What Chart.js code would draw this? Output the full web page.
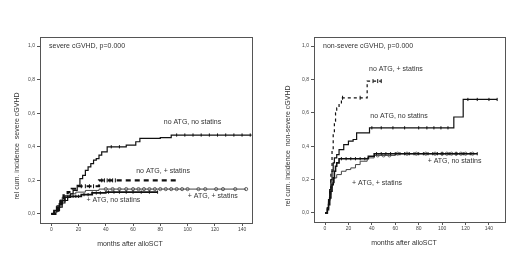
<!DOCTYPE html>
<html>
<head>
<meta charset="utf-8">
<script src="https://cdn.jsdelivr.net/npm/chart.js@4.4.1/dist/chart.umd.min.js"></script>
<style>
    body { margin: 0; background: #fff; width: 520px; height: 262px; position: relative; overflow: hidden; }
    canvas { position: absolute; top: 0; }
    #severe { left: 0; }
    #nonsevere { left: 274px; }
</style>
</head>
<body>
<canvas id="severe" width="260" height="262"></canvas>
<canvas id="nonsevere" width="246" height="262"></canvas>
<script>
// tick labels
const xTicks = [0, 20, 40, 60, 80, 100, 120, 140];
const yTicks = [0, 0.2, 0.4, 0.6, 0.8, 1.0];
const seriesNames = ["no ATG, no statins", "no ATG, + statins", "+ ATG, no statins", "+ ATG, + statins"];

// severe cGVHD - step functions (months / cumulative incidence)
const sevNoNoT = [0, 2, 4, 6, 8, 10, 12, 14, 16, 19, 21, 23, 25, 27, 29, 31, 33, 35, 37, 41, 55, 62, 65, 80, 88, 147];
const sevNoNoV = [0, 0.01, 0.02, 0.04, 0.065, 0.08, 0.1, 0.12, 0.14, 0.17, 0.21, 0.23, 0.26, 0.28, 0.30, 0.32, 0.33, 0.35, 0.37, 0.40, 0.41, 0.43, 0.45, 0.455, 0.47, 0.47];
const sevNoNoCens = [44, 50, 92, 98, 104, 110, 116, 122, 128, 134, 140, 146];
const sevNoStT = [0, 3, 5, 7, 9, 12, 15, 20, 35, 93];
const sevNoStV = [0, 0.02, 0.05, 0.08, 0.11, 0.13, 0.15, 0.165, 0.20, 0.20];
const sevNoStCens = [22, 25, 28, 31, 37, 39, 41, 43, 45, 47];
const sevAtgNoT = [0, 2, 4, 6, 8, 10, 14, 22, 30, 40, 78];
const sevAtgNoV = [0, 0.02, 0.04, 0.06, 0.08, 0.10, 0.105, 0.115, 0.125, 0.13, 0.13];
const sevAtgNoCens = [12, 14, 16, 18, 20, 24, 27, 30, 33, 36, 42, 46, 50, 55, 60, 66, 72, 78];
const sevAtgStT = [0, 2, 4, 6, 8, 10, 14, 18, 25, 35, 143];
const sevAtgStV = [0, 0.02, 0.05, 0.08, 0.10, 0.11, 0.12, 0.13, 0.14, 0.148, 0.148];
const sevAtgStCens = [40, 45, 50, 55, 60, 64, 68, 72, 76, 80, 84, 88, 92, 96, 100, 108, 113, 121, 126, 135, 143];

// non-severe cGVHD
const nonNoNoT = [0, 2, 3, 4, 5, 6, 7, 8, 10, 12, 16, 20, 24, 27, 38, 110, 118, 147];
const nonNoNoV = [0, 0.03, 0.08, 0.14, 0.2, 0.25, 0.3, 0.33, 0.35, 0.38, 0.41, 0.43, 0.44, 0.48, 0.51, 0.575, 0.68, 0.68];
const nonNoNoCens = [40, 48, 58, 68, 80, 87, 93, 99, 105, 122, 130, 140, 147];
const nonNoStT = [0, 2, 3, 4, 5, 6, 7, 8, 9, 10, 12, 14, 36, 48];
const nonNoStV = [0, 0.03, 0.08, 0.15, 0.25, 0.38, 0.48, 0.55, 0.6, 0.63, 0.66, 0.69, 0.79, 0.79];
const nonNoStCens = [15, 30, 41, 45, 48];
const nonAtgNoT = [0, 2, 3, 4, 5, 6, 7, 8, 9, 10, 12, 37, 42, 130];
const nonAtgNoV = [0, 0.02, 0.05, 0.09, 0.13, 0.17, 0.21, 0.25, 0.28, 0.30, 0.325, 0.34, 0.355, 0.355];
const nonAtgNoCens = [14, 18, 22, 26, 30, 34, 44, 48, 52, 56, 60, 64, 68, 72, 76, 80, 84, 88, 92, 96, 100, 106, 112, 118, 124, 130];
const nonAtgStT = [0, 2, 3, 4, 5, 6, 8, 10, 14, 18, 22, 26, 30, 36, 42, 60, 126];
const nonAtgStV = [0, 0.03, 0.07, 0.11, 0.15, 0.18, 0.21, 0.23, 0.25, 0.26, 0.27, 0.29, 0.31, 0.33, 0.345, 0.355, 0.355];
const nonAtgStCens = [45, 50, 55, 62, 70, 78, 86, 94, 100, 104, 108, 112, 116, 120, 126];

// value of a step curve at month t (read from the step function, no interpolation)
function stepAt(times, vals, t) {
    let v = vals[0];
    for (let i = 0; i < times.length; i++) {
        if (times[i] <= t) v = vals[i];
    }
    return v;
}

function stepSet(times, vals, style) {
    return Object.assign({
        data: times.map((t, i) => ({ x: t, y: vals[i] })),
        showLine: true,
        stepped: 'before', // horizontal first, then jump at the event time
        pointRadius: 0,
        borderColor: '#111',
        borderWidth: 1.2,
        fill: false
    }, style);
}

function censorSet(times, vals, cens, style) {
    return Object.assign({
        data: cens.map((t) => ({ x: t, y: stepAt(times, vals, t) })),
        showLine: false,
        pointStyle: 'line',
        rotation: 90,
        pointRadius: 1.6,
        borderColor: '#111',
        borderWidth: 1,
        backgroundColor: '#fff'
    }, style);
}

const circle = { pointStyle: 'circle', rotation: 0, pointRadius: 1.6, borderColor: '#444', borderWidth: 0.8 };

// frame, panel title, curve labels and axis titles
const panelText = {
    id: 'panelText',
    afterDraw(chart, args, opts) {
        const { ctx, chartArea: a, scales } = chart;
        ctx.save();
        ctx.strokeStyle = '#555';
        ctx.lineWidth = 1;
        ctx.strokeRect(a.left + 0.5, a.top + 0.5, a.right - a.left, a.bottom - a.top);
        ctx.fillStyle = '#333';
        ctx.font = '7px "Liberation Sans", Arial, sans-serif';
        ctx.textBaseline = 'middle';
        ctx.textAlign = 'left';
        ctx.fillText(opts.title, a.left + 9, a.top + 9);
        ctx.textAlign = 'center';
        opts.labels.forEach((l, i) => {
            ctx.fillText(seriesNames[i], scales.x.getPixelForValue(l[0]), scales.y.getPixelForValue(l[1]));
        });
        ctx.fillText('months after alloSCT', a.left + 90, a.bottom + 21);
        ctx.translate(a.left - opts.yTitleGap, a.top + 109);
        ctx.rotate(-Math.PI / 2);
        ctx.fillText(opts.yTitle, 0, 0);
        ctx.restore();
    }
};

function makePanel(canvasId, datasets, opts) {
    const tickFont = { family: '"Liberation Sans", Arial, sans-serif', size: 5 };
    new Chart(document.getElementById(canvasId), {
        type: 'scatter',
        data: { datasets: datasets },
        options: {
            responsive: false,
            animation: false,
            layout: { padding: { top: 37, right: opts.padRight, left: 0, bottom: 0 } },
            plugins: { legend: { display: false }, tooltip: { enabled: false }, panelText: opts },
            scales: {
                x: {
                    type: 'linear', min: opts.xMin, max: opts.xMax,
                    afterBuildTicks: (s) => { s.ticks = xTicks.map((v) => ({ value: v })); },
                    afterFit: (s) => { s.height = opts.xHeight; },
                    ticks: { font: tickFont, color: '#444', padding: 1, maxRotation: 0 },
                    grid: { drawOnChartArea: false, tickLength: 3, color: '#555' },
                    border: { display: false }
                },
                y: {
                    type: 'linear', min: -0.054, max: 1.054,
                    afterBuildTicks: (s) => { s.ticks = yTicks.map((v) => ({ value: v })); },
                    afterFit: (s) => { s.width = 40; },
                    ticks: { font: tickFont, color: '#444', padding: 2, callback: (v) => v.toFixed(1).replace('.', ',') },
                    grid: { drawOnChartArea: false, tickLength: 3, color: '#555' },
                    border: { display: false }
                }
            }
        },
        plugins: [panelText]
    });
}

makePanel('severe', [
    stepSet(sevNoNoT, sevNoNoV, {}),
    censorSet(sevNoNoT, sevNoNoV, sevNoNoCens, {}),
    stepSet(sevNoStT, sevNoStV, { borderWidth: 2.2, borderDash: [5, 4] }),
    censorSet(sevNoStT, sevNoStV, sevNoStCens, { pointRadius: 2 }),
    stepSet(sevAtgNoT, sevAtgNoV, { borderWidth: 1.8 }),
    censorSet(sevAtgNoT, sevAtgNoV, sevAtgNoCens, {}),
    stepSet(sevAtgStT, sevAtgStV, { borderColor: '#444', borderWidth: 1 }),
    censorSet(sevAtgStT, sevAtgStV, sevAtgStCens, circle)
], {
    title: 'severe cGVHD, p=0.000',
    yTitle: 'rel cum. incidence  severe cGVHD',
    yTitleGap: 23,
    labels: [[103.6, 0.548], [82, 0.256], [45.6, 0.083], [118.5, 0.107]],
    xMin: -8.3, xMax: 147.3, padRight: 8, xHeight: 39
});

makePanel('nonsevere', [
    stepSet(nonNoNoT, nonNoNoV, {}),
    censorSet(nonNoNoT, nonNoNoV, nonNoNoCens, {}),
    stepSet(nonNoStT, nonNoStV, { borderWidth: 1.2, borderDash: [3, 3] }),
    censorSet(nonNoStT, nonNoStV, nonNoStCens, { pointRadius: 2 }),
    stepSet(nonAtgNoT, nonAtgNoV, { borderWidth: 1.6 }),
    censorSet(nonAtgNoT, nonAtgNoV, nonAtgNoCens, {}),
    stepSet(nonAtgStT, nonAtgStV, { borderColor: '#444', borderWidth: 1 }),
    censorSet(nonAtgStT, nonAtgStV, nonAtgStCens, circle)
], {
    title: 'non-severe cGVHD, p=0.000',
    yTitle: 'rel cum. incidence  non-severe cGVHD',
    yTitleGap: 26,
    labels: [[63.2, 0.581], [60.6, 0.862], [110.6, 0.311], [44.4, 0.18]],
    xMin: -9.4, xMax: 153.7, padRight: 15, xHeight: 40
});
</script>
</body>
</html>
